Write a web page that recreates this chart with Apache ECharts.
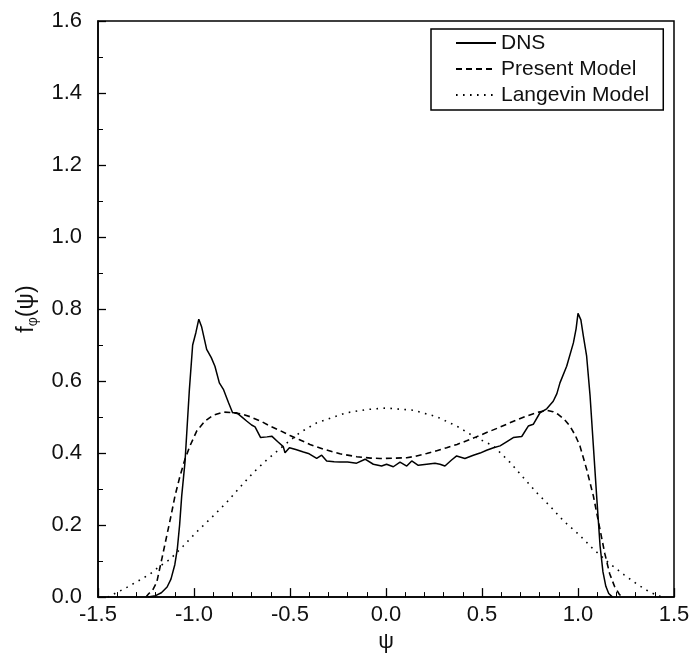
<!DOCTYPE html>
<html>
<head>
<meta charset="utf-8">
<script src="https://cdn.jsdelivr.net/npm/echarts@6/dist/echarts.min.js"></script>
<style>
  html, body { margin: 0; padding: 0; background: #fff; }
  #chart { width: 694px; height: 658px; }
</style>
</head>
<body>
<div id="chart"></div>
<script>
// PDF of the scalar, f_phi(psi): DNS against the two mixing models
const xTicks = [-1.5, -1.0, -0.5, 0.0, 0.5, 1.0, 1.5];
const yTicks = [0.0, 0.2, 0.4, 0.6, 0.8, 1.0, 1.2, 1.4, 1.6];
const seriesNames = ['DNS', 'Present Model', 'Langevin Model'];

const dnsPsi = [-1.24, -1.20, -1.17, -1.14, -1.12, -1.10, -1.087, -1.075, -1.064, -1.047, -1.035, -1.024, -1.007, -0.99, -0.975, -0.96, -0.934, -0.91, -0.891, -0.868, -0.847, -0.82, -0.799, -0.778, -0.75, -0.726, -0.70, -0.682, -0.653, -0.62, -0.595, -0.565, -0.535, -0.526, -0.503, -0.47, -0.43, -0.40, -0.361, -0.335, -0.309, -0.27, -0.24, -0.20, -0.153, -0.109, -0.066, -0.023, 0.003, 0.038, 0.073, 0.108, 0.134, 0.168, 0.212, 0.255, 0.281, 0.307, 0.34, 0.368, 0.411, 0.455, 0.49, 0.524, 0.56, 0.594, 0.63, 0.663, 0.707, 0.741, 0.767, 0.802, 0.837, 0.871, 0.89, 0.906, 0.941, 0.976, 0.99, 1.0, 1.015, 1.028, 1.045, 1.063, 1.08, 1.097, 1.115, 1.13, 1.145, 1.16, 1.18];
const dnsF = [0.0, 0.004, 0.012, 0.028, 0.05, 0.09, 0.133, 0.2, 0.281, 0.374, 0.48, 0.577, 0.70, 0.735, 0.772, 0.75, 0.688, 0.665, 0.641, 0.595, 0.577, 0.54, 0.512, 0.512, 0.5, 0.489, 0.478, 0.473, 0.443, 0.445, 0.447, 0.432, 0.418, 0.401, 0.415, 0.41, 0.403, 0.398, 0.385, 0.394, 0.378, 0.376, 0.375, 0.375, 0.372, 0.383, 0.369, 0.364, 0.369, 0.362, 0.375, 0.364, 0.378, 0.366, 0.369, 0.372, 0.369, 0.364, 0.38, 0.392, 0.385, 0.394, 0.40, 0.408, 0.415, 0.42, 0.432, 0.443, 0.446, 0.475, 0.48, 0.512, 0.523, 0.544, 0.565, 0.595, 0.641, 0.706, 0.745, 0.788, 0.77, 0.725, 0.669, 0.558, 0.42, 0.281, 0.142, 0.07, 0.03, 0.01, 0.0];

const modelPsi = [-1.25, -1.235, -1.215, -1.194, -1.168, -1.142, -1.12, -1.099, -1.073, -1.047, -1.021, -0.986, -0.943, -0.90, -0.847, -0.795, -0.75, -0.708, -0.65, -0.604, -0.55, -0.50, -0.45, -0.396, -0.32, -0.24, -0.153, -0.08, -0.031, 0.05, 0.108, 0.16, 0.212, 0.26, 0.316, 0.37, 0.42, 0.47, 0.524, 0.58, 0.628, 0.68, 0.733, 0.79, 0.837, 0.87, 0.898, 0.93, 0.958, 0.985, 1.01, 1.045, 1.08, 1.11, 1.14, 1.165, 1.19, 1.215, 1.23];
const modelF = [0.0, 0.01, 0.02, 0.041, 0.105, 0.17, 0.225, 0.281, 0.336, 0.383, 0.42, 0.461, 0.489, 0.505, 0.514, 0.512, 0.508, 0.501, 0.488, 0.475, 0.462, 0.449, 0.437, 0.424, 0.41, 0.398, 0.39, 0.386, 0.385, 0.386, 0.387, 0.392, 0.399, 0.406, 0.415, 0.424, 0.434, 0.445, 0.457, 0.469, 0.48, 0.492, 0.503, 0.513, 0.519, 0.515, 0.507, 0.493, 0.475, 0.45, 0.42, 0.355, 0.281, 0.2, 0.12, 0.065, 0.03, 0.008, 0.0];

const langPsi = [-1.45, -1.40, -1.35, -1.29, -1.229, -1.18, -1.125, -1.056, -0.986, -0.908, -0.83, -0.769, -0.691, -0.621, -0.535, -0.448, -0.361, -0.257, -0.205, -0.10, 0.0, 0.142, 0.264, 0.368, 0.455, 0.559, 0.646, 0.715, 0.785, 0.854, 0.924, 1.002, 1.08, 1.16, 1.24, 1.31, 1.37, 1.42, 1.45];
const langF = [0.0, 0.013, 0.027, 0.045, 0.064, 0.085, 0.105, 0.142, 0.181, 0.221, 0.263, 0.3, 0.346, 0.381, 0.42, 0.457, 0.484, 0.503, 0.512, 0.521, 0.525, 0.519, 0.501, 0.475, 0.447, 0.42, 0.374, 0.332, 0.29, 0.253, 0.212, 0.175, 0.133, 0.095, 0.062, 0.035, 0.015, 0.003, 0.0];

const pairs = (xs, ys) => xs.map((x, i) => [x, ys[i]]);
const FONT = '"Liberation Sans", Arial, sans-serif';
const INK = '#111';

const chart = echarts.init(document.getElementById('chart'), null, { renderer: 'canvas' });
chart.setOption({
  animation: false,
  backgroundColor: '#ffffff',
  grid: {
    left: 98, right: 20, top: 21, bottom: 60,
    show: true, borderColor: '#000', borderWidth: 1.5, backgroundColor: 'transparent'
  },
  legend: {
    data: seriesNames,
    orient: 'vertical',
    left: 431, top: 29,
    padding: [2, 14, 3, 24],
    itemGap: 2,
    itemWidth: 40,
    itemHeight: 14,
    borderColor: '#000', borderWidth: 1.5,
    itemStyle: { color: 'transparent', borderColor: 'transparent', borderWidth: 0 },
    textStyle: { fontFamily: FONT, fontSize: 21, lineHeight: 24, color: INK }
  },
  xAxis: {
    type: 'value',
    min: xTicks[0], max: xTicks[xTicks.length - 1], interval: 0.5,
    axisLine: { show: true, onZero: false, lineStyle: { color: '#000', width: 1.5 } },
    axisTick: { show: true, inside: true, length: 9, lineStyle: { color: '#000', width: 1.3 } },
    minorTick: { show: true, splitNumber: 5, length: 5, lineStyle: { color: '#000', width: 1 } },
    splitLine: { show: false },
    axisLabel: { fontFamily: FONT, fontSize: 22, color: INK, margin: 7,
      formatter: v => v.toFixed(1) },
    name: 'ψ', nameLocation: 'middle', nameGap: 30,
    nameTextStyle: { fontFamily: FONT, fontSize: 22, color: INK }
  },
  yAxis: {
    type: 'value',
    min: yTicks[0], max: yTicks[yTicks.length - 1], interval: 0.2,
    axisLine: { show: true, onZero: false, lineStyle: { color: '#000', width: 1.5 } },
    axisTick: { show: true, inside: true, length: 8, lineStyle: { color: '#000', width: 1.3 } },
    minorTick: { show: true, splitNumber: 2, length: 5, lineStyle: { color: '#000', width: 1 } },
    splitLine: { show: false },
    axisLabel: { fontFamily: FONT, fontSize: 22, color: INK, margin: 16,
      formatter: v => v.toFixed(1) },
    name: '{f|f}{s|φ}{f|(ψ)}', nameLocation: 'middle', nameGap: 52, nameRotate: 90,
    nameTextStyle: {
      fontFamily: FONT, color: INK,
      rich: {
        f: { fontFamily: FONT, fontSize: 23, lineHeight: 28, color: INK },
        s: { fontFamily: FONT, fontSize: 14, lineHeight: 13, verticalAlign: 'bottom', color: INK }
      }
    }
  },
  series: [
    { name: seriesNames[0], type: 'line', data: pairs(dnsPsi, dnsF), showSymbol: false, symbol: 'none',
      lineStyle: { color: '#000', width: 1.5, type: 'solid' }, itemStyle: { color: '#000' } },
    { name: seriesNames[1], type: 'line', data: pairs(modelPsi, modelF), showSymbol: false, symbol: 'none',
      lineStyle: { color: '#000', width: 1.6, type: [6, 4] }, itemStyle: { color: '#000' } },
    { name: seriesNames[2], type: 'line', data: pairs(langPsi, langF), showSymbol: false, symbol: 'none',
      lineStyle: { color: '#000', width: 1.6, type: [1.6, 5.4] }, itemStyle: { color: '#000' } }
  ]
});
</script>
</body>
</html>
